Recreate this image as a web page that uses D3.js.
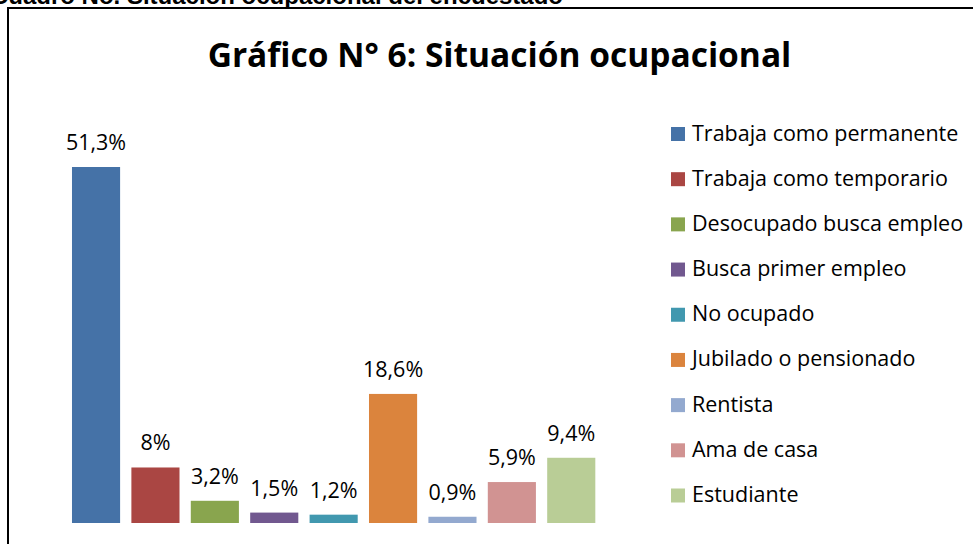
<!DOCTYPE html>
<html><head><meta charset="utf-8">
<script src="https://cdn.jsdelivr.net/npm/d3@7"></script>
<style>html,body{margin:0;padding:0;background:#fff;overflow:hidden}</style>
</head><body>
<svg id="c" width="973" height="544"></svg>
<script>
const categories = ["Trabaja como permanente","Trabaja como temporario","Desocupado busca empleo","Busca primer empleo","No ocupado","Jubilado o pensionado","Rentista","Ama de casa","Estudiante"];
const values = [51.3, 8, 3.2, 1.5, 1.2, 18.6, 0.9, 5.9, 9.4];
const labels = ["51,3%","8%","3,2%","1,5%","1,2%","18,6%","0,9%","5,9%","9,4%"];
const colors = ["#4572A7","#AA4643","#89A54E","#71588F","#4198AF","#DB843D","#93A9CF","#D19392","#B9CD96"];
const title = "Gráfico N° 6: Situación ocupacional";
const caption = "Cuadro No. Situación ocupacional del encuestado";

const svg = d3.select("#c");
const font = "'Open Sans', sans-serif";

svg.append("text").attr("x", 563).attr("y", 4).attr("text-anchor","end")
  .attr("font-family", "'Liberation Sans', Arial, sans-serif").attr("font-weight","bold").attr("font-size", 24).attr("fill","#000").text(caption);

svg.append("rect").attr("x", 8).attr("y", 8).attr("width", 1000).attr("height", 600)
  .attr("fill","#fff").attr("stroke","#000").attr("stroke-width", 2);

svg.append("text").attr("x", 499.5).attr("y", 67).attr("text-anchor","middle")
  .attr("font-family", font).attr("font-weight","bold").attr("font-size", 33.5).attr("fill","#000").text(title);

const x = d3.scaleBand().domain(categories).range([60.7, 606.6]).paddingInner(0.19).paddingOuter(0.19);
const y = d3.scaleLinear().domain([0, 51.3]).range([523, 167]);

svg.append("g").selectAll("rect").data(values).join("rect")
  .attr("x", (d,i) => x(categories[i])).attr("width", x.bandwidth())
  .attr("y", d => y(d)).attr("height", d => y(0) - y(d))
  .attr("fill", (d,i) => colors[i]);

svg.append("g").selectAll("text").data(values).join("text")
  .attr("x", (d,i) => x(categories[i]) + x.bandwidth()/2).attr("y", d => y(d) - 17)
  .attr("text-anchor","middle").attr("font-family", font).attr("font-size", 21.5).attr("fill","#000")
  .text((d,i) => labels[i]);

const ly = d3.scalePoint().domain(categories).range([134, 495.5]);
const lg = svg.append("g").selectAll("g").data(categories).join("g")
  .attr("transform", d => `translate(671,${ly(d)})`);
lg.append("rect").attr("x",0).attr("y",-7).attr("width",14).attr("height",14).attr("fill",(d,i)=>colors[i]);
lg.append("text").attr("x", 21).attr("y", 6.5).attr("font-family", font).attr("font-size", 21.5).attr("fill","#000").text(d => d);
</script>
</body></html>
